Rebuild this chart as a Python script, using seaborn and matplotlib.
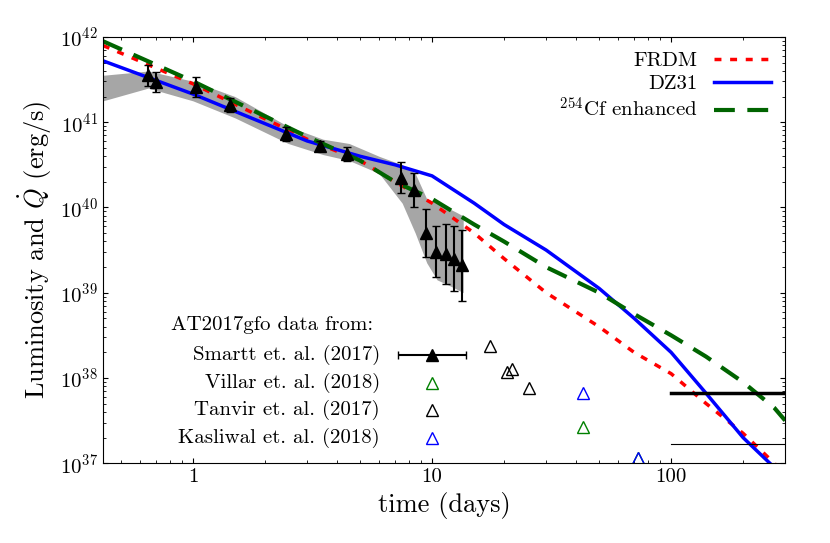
import numpy as np
import matplotlib
matplotlib.use("Agg")
import matplotlib.pyplot as plt
import seaborn as sns
import pandas as pd

plt.rcParams.update({"font.family": "serif", "font.serif": ["cmr10", "DejaVu Serif"],
                     "mathtext.fontset": "cm", "axes.formatter.use_mathtext": True, "font.size": 15})

model_t = [0.42, 1, 3, 5, 7, 10, 15, 20, 30, 50, 70, 100, 140, 200, 270, 300]
frdm = [41.9, 41.45, 40.8, 40.55, 40.3, 40.05, 39.7, 39.4, 39.0, 38.6, 38.3, 38.05, 37.7, 37.35, 37.0, 36.85]
dz31 = [41.72, 41.33, 40.78, 40.6, 40.5, 40.37, 40.05, 39.8, 39.5, 39.05, 38.7, 38.3, 37.82, 37.3, 36.95, 36.8]
cf254 = [41.95, 41.48, 40.83, 40.55, 40.3, 40.1, 39.8, 39.6, 39.3, 39.0, 38.75, 38.5, 38.25, 37.95, 37.65, 37.5]

smartt_t = [0.65, 0.7, 1.03, 1.43, 2.45, 3.4, 4.4, 7.4, 8.4, 9.4, 10.4, 11.4, 12.4, 13.4]
smartt_L = [41.55, 41.47, 41.41, 41.2, 40.86, 40.72, 40.63, 40.35, 40.2, 39.7, 39.48, 39.45, 39.4, 39.32]
smartt_err = [0.12, 0.12, 0.12, 0.08, 0.08, 0.06, 0.08, 0.18, 0.2, 0.28, 0.3, 0.35, 0.38, 0.42]
band_t = [0.42, 0.65, 1.0, 1.5, 2.5, 3.5, 4.5, 6, 7.5, 8.5, 9.5, 10.5, 11.5, 12.5, 13.5]
band_lo = [41.25, 41.4, 41.25, 41.05, 40.75, 40.62, 40.55, 40.4, 40.05, 39.7, 39.35, 39.15, 39.1, 39.05, 39.0]
band_hi = [41.55, 41.6, 41.48, 41.3, 40.95, 40.8, 40.75, 40.6, 40.5, 40.4, 40.1, 40.05, 40.0, 39.95, 39.9]

villar_t = [43, 73]; villar_L = [37.42, 37.06]
tanvir_t = [17.4, 20.5, 21.5, 25.5]; tanvir_L = [38.38, 38.07, 38.11, 37.88]
kasl_t = [43, 73]; kasl_L = [37.82, 37.06]

fig = plt.figure(figsize=(8.3, 5.43), dpi=100)
ax = fig.add_axes([0.124, 0.147, 0.822, 0.785])
p = lambda a: 10 ** np.array(a)
ax.fill_between(band_t, p(band_lo), p(band_hi), color="0.65", lw=0)
sns.lineplot(x=model_t, y=p(frdm), ax=ax, color="red", ls=(0, (2, 2.5)), lw=2.5, label="FRDM")
sns.lineplot(x=model_t, y=p(dz31), ax=ax, color="blue", lw=2.5, label="DZ31")
sns.lineplot(x=model_t, y=p(cf254), ax=ax, color="darkgreen", ls=(0, (5, 3)), lw=3, label="$^{254}$Cf enhanced")
st = np.array(smartt_t); sL = np.array(smartt_L); se = np.array(smartt_err)
ax.errorbar(st, p(sL), yerr=[p(sL) - p(sL - se), p(sL + se) - p(sL)], fmt="^", color="black", ms=8, capsize=3, lw=1.5)
ax.plot(villar_t, p(villar_L), "^", mfc="none", mec="green", ms=8)
ax.plot(tanvir_t, p(tanvir_L), "^", mfc="none", mec="black", ms=8)
ax.plot(kasl_t, p(kasl_L), "^", mfc="none", mec="blue", ms=8)
ax.plot([100, 300], [p(37.82)] * 2, color="black", lw=2.5)
ax.plot([100, 300], [p(37.23)] * 2, color="black", lw=0.8)

ax.set_xscale("log"); ax.set_yscale("log")
ax.set_xlim(0.42, 300); ax.set_ylim(1e37, 1e42)
ax.set_xticks([1, 10, 100]); ax.set_xticklabels(["1", "10", "100"])
ax.set_xlabel("time (days)", fontsize=19)
ax.set_ylabel(r"Luminosity and $\dot{Q}$ (erg/s)", fontsize=19)
ax.tick_params(which="both", direction="in", top=True, right=True)
leg = ax.legend(loc="upper right", frameon=False, fontsize=15, handlelength=2.7, markerfirst=False,
                labelspacing=0.2, borderaxespad=0.3)

ax.text(0.248, 0.324, "AT2017gfo data from:", transform=ax.transAxes, fontsize=15, ha="center", va="center")
labels = ["Smartt et. al. (2017)", "Villar et. al. (2018)", "Tanvir et. al. (2017)", "Kasliwal et. al. (2018)"]
cols = ["black", "green", "black", "blue"]
for i, (lab, c) in enumerate(zip(labels, cols)):
    y = 0.254 - i * 0.065
    ax.text(0.406, y, lab, transform=ax.transAxes, fontsize=15, ha="right", va="center")
    if i == 0:
        ax.errorbar([0.482], [y], xerr=[[0.05]], fmt="^", color="black", ms=8, capsize=3, transform=ax.transAxes)
    else:
        ax.plot([0.482], [y], "^", mfc="none", mec=c, ms=8, transform=ax.transAxes)
fig.savefig("out.png", dpi=100)
